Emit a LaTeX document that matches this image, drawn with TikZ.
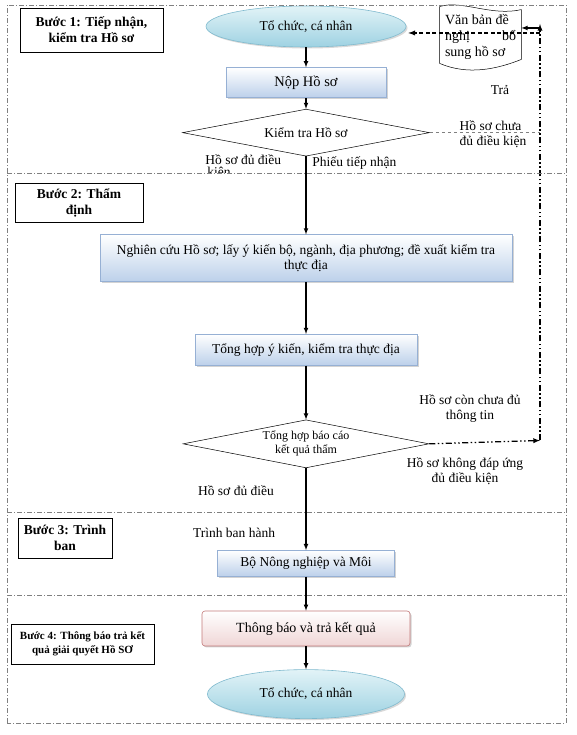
\documentclass[tikz,border=0pt]{standalone}
\usepackage{fontspec}
\setmainfont{Liberation Serif}
\usetikzlibrary{positioning,shapes.geometric,shadows,arrows}

\definecolor{boxfill}{RGB}{188,208,234}
\definecolor{boxline}{RGB}{150,176,212}
\definecolor{ovaltop}{RGB}{226,243,247}
\definecolor{ovalfill}{RGB}{158,210,226}
\definecolor{ovalline}{RGB}{128,186,206}
\definecolor{pinkfill}{RGB}{240,214,214}
\definecolor{pinkline}{RGB}{196,122,122}

\begin{document}
\begin{tikzpicture}[x=1pt, y=1pt, thick, font=\fontsize{13.5}{15}\selectfont,
  box/.style = {draw=boxline, line width=0.6pt, top color=white, bottom color=boxfill, inner sep=0pt, align=center,
    drop shadow={shadow xshift=1.5pt, shadow yshift=-1.5pt, opacity=0.35}},
  oval/.style = {ellipse, draw=ovalline, line width=0.6pt, top color=ovaltop, bottom color=ovalfill, inner sep=0pt,
    minimum width=200pt, minimum height=41pt, drop shadow={shadow xshift=1.5pt, shadow yshift=-1.5pt, opacity=0.3}},
  cond/.style = {diamond, aspect=5, draw, line width=0.5pt, fill=white, inner sep=0pt, align=center},
  stepbox/.style = {draw, line width=0.6pt, fill=white, inner sep=0pt, align=center, font=\bfseries\fontsize{13.5}{16}\selectfont},
  lbl/.style = {inner sep=0pt, align=center},
  arr/.style = {-latex, line width=1.1pt},
  frameline/.style = {draw=gray, line width=0.6pt, dash pattern=on 5pt off 2pt on 1pt off 2pt},
  dashdotdot/.style = {line width=1.3pt, dash pattern=on 6pt off 2.5pt on 1.5pt off 2.5pt on 1.5pt off 2.5pt}]
\useasboundingbox (0,0) rectangle (576,735);

\node[oval] (ell1) at (306,708.5) {Tổ chức, cá nhân};
\node[box, minimum width=160pt, minimum height=30pt, font=\fontsize{14.5}{16}\selectfont] (nop) [below=20pt of ell1] {Nộp Hồ sơ};
\node[cond, minimum width=247pt, minimum height=47pt] (dia1) [below=11pt of nop] {Kiểm tra Hồ sơ};
\node[box, minimum width=412pt, minimum height=47pt] (nc) [below=78pt of dia1] {Nghiên cứu Hồ sơ; lấy ý kiến bộ, ngành, địa phương; đề xuất kiểm tra\\thực địa};
\node[box, minimum width=222pt, minimum height=31pt] (th) [below=52pt of nc] {Tổng hợp ý kiến, kiểm tra thực địa};
\node[cond, minimum width=246pt, minimum height=48pt, font=\fontsize{12}{14}\selectfont] (dia2) [below=54pt of th] {Tổng hợp báo cáo\\kết quả thẩm};
\node[box, minimum width=177pt, minimum height=26pt] (bo) [below=82pt of dia2] {Bộ Nông nghiệp và Môi};
\node[box, draw=pinkline, bottom color=pinkfill, rounded corners=3pt, minimum width=208pt, minimum height=35pt, font=\fontsize{14}{16}\selectfont] (tb) [below=34pt of bo] {Thông báo và trả kết quả};
\node[oval, minimum width=197pt, minimum height=49pt] (ell2) [below=23pt of tb] {Tổ chức, cá nhân};

\node[stepbox, minimum width=143pt, minimum height=44pt] (s1) at (91.5,705) {Bước 1: Tiếp nhận,\\kiểm tra Hồ sơ};
\node[stepbox, minimum width=128pt, minimum height=39pt] (s2) at (79,532.5) {Bước 2: Thẩm\\định};
\node[stepbox, minimum width=94pt, minimum height=40pt] (s3) at (65,197) {Bước 3: Trình\\ban};
\node[stepbox, minimum width=143pt, minimum height=40pt, font=\bfseries\fontsize{11}{14}\selectfont] (s4) at (82.5,91) {Bước 4: Thông báo trả kết\\quả giải quyết Hồ SƠ};

\node[lbl, minimum width=81pt, minimum height=53pt, font=\fontsize{14}{16}\selectfont] (doc) at (480.5,698.5)
  {\parbox{71pt}{Văn bản đề\\nghị\hfill bổ\\sung hồ sơ}};
\draw[line width=0.5pt] ([yshift=3pt]doc.north west) .. controls ([xshift=22pt,yshift=10pt]doc.north west) and ([xshift=-30pt,yshift=-7pt]doc.north east) .. (doc.north east)
  -- ([yshift=4pt]doc.south east) .. controls ([xshift=-25pt,yshift=-6pt]doc.south east) and ([xshift=28pt,yshift=-12pt]doc.south west) .. (doc.south west) -- cycle;

\node[lbl, anchor=north west, align=left] (ok1) at (205,581) {Hồ sơ đủ điều};
\begin{scope}
\clip (190,562) rectangle (300,575);
\node[lbl, anchor=north west] (ok1b) at (207,568) {kiện};
\end{scope}
\node[lbl, anchor=west] (ptn) at (312,572) {Phiếu tiếp nhận};
\node[lbl] (tra) at (500,645) {Trả};
\node[lbl, align=left] (chua) at (493,600.5) {Hồ sơ chưa\\đủ điều kiện};
\node[lbl] (thongtin) at (470,326) {Hồ sơ còn chưa đủ\\thông tin};
\node[lbl] (khong) at (465,264) {Hồ sơ không đáp ứng\\đủ điều kiện};
\node[lbl] (ok2) at (236,244) {Hồ sơ đủ điều};
\node[lbl] (trinh) at (234,202) {Trình ban hành};

\coordinate (rtop) at (540,711);
\coordinate (rt) at (540,702);
\coordinate (rt2) at (540,707);
\coordinate (rb) at (540,294.5);

\draw[arr] (ell1) -- (nop);
\draw[arr] (nop) -- (dia1);
\draw[arr] (dia1) -- (nc);
\draw[arr] (nc) -- (th);
\draw[arr] (th) -- (dia2);
\draw[arr] (dia2) -- (bo);
\draw[arr] (bo) -- (tb);
\draw[arr] (tb) -- (ell2);

\draw[gray, line width=0.6pt, dashed] (dia1.east) -- (dia1.east -| rt);
\draw[dashdotdot, -latex] (dia2.east) -- (rb);
\draw[dashdotdot, -latex] (rb) -- (rtop);
\draw[-latex, line width=1.1pt] (rt2) -- (doc.east |- rt2);
\draw[-latex, line width=1.3pt, dash pattern=on 4pt off 2.5pt] (rt) -- ([xshift=2pt]ell1.east |- rt);

\draw[frameline] (7,12) rectangle (566,730);
\draw[frameline] (7,562) -- (566,562);
\draw[frameline] (7,223) -- (566,223);
\draw[frameline] (7,140) -- (566,140);
\end{tikzpicture}
\end{document}
